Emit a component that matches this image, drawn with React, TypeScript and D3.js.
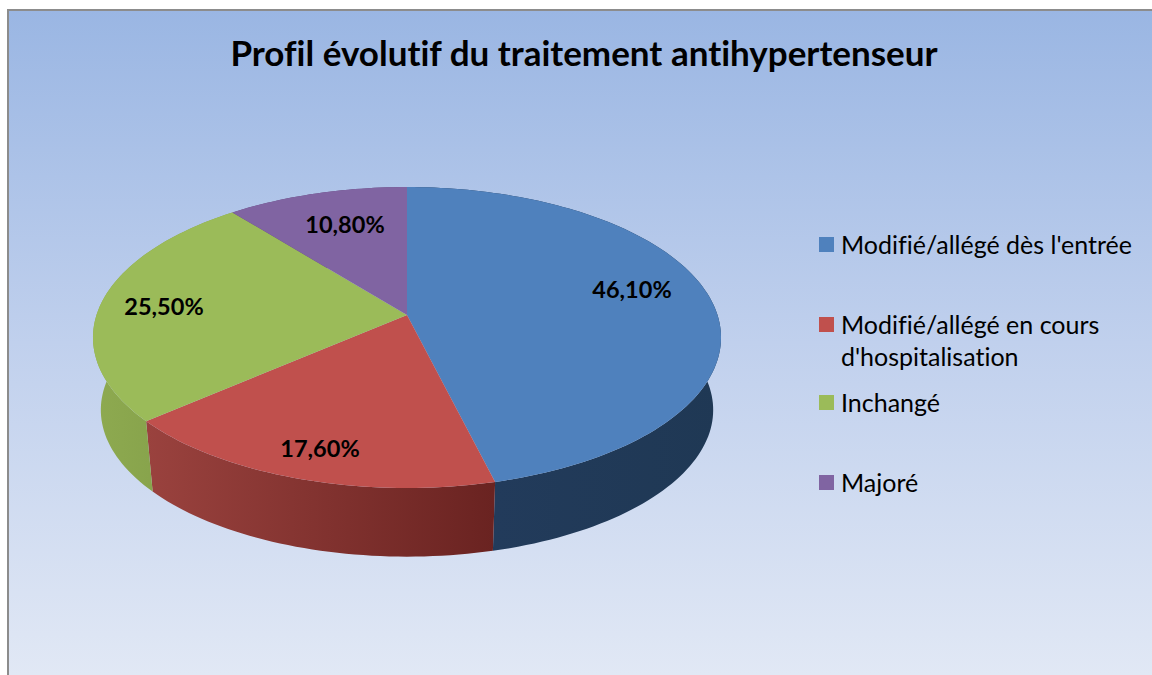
import React from "react";
import * as d3 from "d3";

const categories = ["Modifié/allégé dès l'entrée", "Modifié/allégé en cours d'hospitalisation", "Inchangé", "Majoré"];
const legendLines = [["Modifié/allégé dès l'entrée"], ["Modifié/allégé en cours", "d'hospitalisation"], ["Inchangé"], ["Majoré"]];
const values = [46.1, 17.6, 25.5, 10.8];
const valueLabels = ["46,10%", "17,60%", "25,50%", "10,80%"];
const topColors = ["#4f81bd", "#c0504d", "#9bbb59", "#8064a2"];
const sideStops = [["#223b5b", "#1f3854"], ["#9a423e", "#6a2321"], ["#8eaa50", "#88a44c"], ["#5f4a7a", "#5f4a7a"]];
const labelPos: [number, number][] = [[632, 291], [320, 450], [164, 308], [345, 226]];
const legendY = [246, 326, 404, 484];

const APEX_X = 407, APEX_Y = 315, A = 310.5, B = 147.1, K = 0.1495, DEPTH = 73, BOTTOM_SCALE = 0.975;
const project = (theta: number): [number, number] => {
  const u = Math.sin(theta), v = Math.cos(theta), w = 1 + K * v;
  return [APEX_X + (A * u) / w, APEX_Y - (B * v) / w];
};
const lower = ([x, y]: [number, number]): [number, number] => [
  APEX_X + (x - APEX_X) * BOTTOM_SCALE,
  APEX_Y + (y - APEX_Y) * BOTTOM_SCALE + DEPTH,
];

export default function App() {
  const arcs = d3.pie<number>().sort(null)(values);
  const line = d3.line();
  const faces = arcs.map((a) => {
    const n = Math.max(8, Math.ceil((a.endAngle - a.startAngle) * 40));
    const pts = d3.range(n + 1).map((i) => project(a.startAngle + ((a.endAngle - a.startAngle) * i) / n));
    const top = line([[APEX_X, APEX_Y], ...pts])! + "Z";
    const side = line([...pts, ...pts.slice().reverse().map(lower)])! + "Z";
    return { top, side, pts };
  });

  return (
    <svg width={1152} height={675} style={{ position: "absolute", left: 0, top: 0, display: "block" }}>
      <defs>
        <linearGradient id="bg" x1="0" y1="0" x2="0" y2="1">
          <stop offset="0" stopColor="#9ab6e3" />
          <stop offset="0.5" stopColor="#c0d0ed" />
          <stop offset="1" stopColor="#e1e8f5" />
        </linearGradient>
        {sideStops.map((s, i) => (
          <linearGradient key={i} id={`side${i}`} gradientUnits="userSpaceOnUse" x1={i === 1 ? 147 : i === 0 ? 493 : 93} y1="0" x2={i === 1 ? 493 : i === 0 ? 721 : 150} y2="0">
            <stop offset="0" stopColor={s[0]} />
            <stop offset="1" stopColor={s[1]} />
          </linearGradient>
        ))}
      </defs>
      <rect x={0} y={0} width={1152} height={675} fill="#ffffff" />
      <rect x={8} y={10} width={1144} height={665} fill="url(#bg)" />
      <path d="M8 675V10H1152" fill="none" stroke="#8c8c8c" strokeWidth={2} />
      {faces.map((f, i) => (
        <path key={i} d={f.side} fill={`url(#side${i})`} />
      ))}
      {faces.map((f, i) => (
        <path key={i} d={f.top} fill={topColors[i]} />
      ))}
      <g fontFamily="Lato, sans-serif" style={{ fontVariantLigatures: "none" }}>
        <text x={584} y={66} textAnchor="middle" fontSize={35} fontWeight={700} fill="#000">
          Profil évolutif du traitement antihypertenseur
        </text>
        {valueLabels.map((t, i) => (
          <text key={t} x={labelPos[i][0]} y={labelPos[i][1] + 7} textAnchor="middle" fontSize={23.5} fontWeight={700} fill="#000">
            {t}
          </text>
        ))}
        {categories.map((c, i) => (
          <g key={c}>
            <rect x={819} y={legendY[i] - 9} width={15} height={15} fill={topColors[i]} />
            {legendLines[i].map((l, j) => (
              <text key={l} x={841} y={legendY[i] + 8 + j * 32} fontSize={25} fill="#000">
                {l}
              </text>
            ))}
          </g>
        ))}
      </g>
    </svg>
  );
}
